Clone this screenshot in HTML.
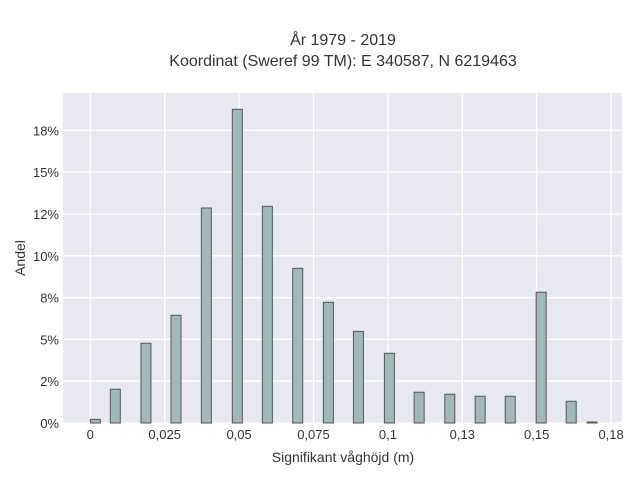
<!DOCTYPE html>
<html><head><meta charset="utf-8"><style>
body{margin:0;background:#fff;font-family:"Liberation Sans",sans-serif}
svg text{font-family:"Liberation Sans",sans-serif;fill:#333}
</style></head><body>
<svg id="chart" width="640" height="480">
<text x="343" y="45" text-anchor="middle" font-size="16">År 1979 - 2019</text>
<text x="343" y="66" text-anchor="middle" font-size="16">Koordinat (Sweref 99 TM): E 340587, N 6219463</text>
<rect x="63" y="93" width="559" height="330" fill="#e8e8f0"/>
<g id="grid"></g><g id="bars"></g><g id="ticks"></g>
<text x="343" y="462" text-anchor="middle" font-size="14">Signifikant våghöjd (m)</text>
<text x="25" y="258" text-anchor="middle" font-size="14" transform="rotate(-90 25 258)">Andel</text>
</svg>
<script>
const binCenters=[0.0017,0.0084,0.0187,0.0288,0.039,0.0494,0.0595,0.0697,0.08,0.0901,0.1005,0.1105,0.1208,0.131,0.1411,0.1515,0.1616,0.1686];
const shares=[0.22,2.02,4.77,6.44,12.86,18.76,12.96,9.25,7.22,5.48,4.17,1.84,1.72,1.6,1.6,7.82,1.3,0.06];
const xTicks=[0,0.025,0.05,0.075,0.1,0.125,0.15,0.175];
const xTickLabels=["0","0,025","0,05","0,075","0,1","0,13","0,15","0,18"];
const yTicks=[0,2.5,5,7.5,10,12.5,15,17.5];
const yTickLabels=["0%","2%","5%","8%","10%","12%","15%","18%"];
const binWidth=0.00336;
const NS="http://www.w3.org/2000/svg";
const xs=v=>90.3+v*2976, ys=p=>423-p*41.8/2.5;
const grid=document.getElementById('grid'),bars=document.getElementById('bars'),ticks=document.getElementById('ticks');
function mk(tag,attrs,parent){const e=document.createElementNS(NS,tag);for(const k in attrs)e.setAttribute(k,attrs[k]);parent.appendChild(e);return e;}
xTicks.forEach((t,i)=>{
 const g=mk('line',{x1:xs(t),x2:xs(t),y1:93,y2:423,stroke:'#fff','stroke-width':1.3},grid);
 
 
 const l=mk('text',{x:xs(t),y:439,'text-anchor':'middle','font-size':13},ticks);
 l.textContent=xTickLabels[i];
 
 
});
yTicks.forEach((t,i)=>{
 const g=mk('line',{x1:63,x2:622,y1:ys(t),y2:ys(t),stroke:'#fff','stroke-width':1.3},grid);
 
 
 const l=mk('text',{x:59,y:ys(t)+5,'text-anchor':'end','font-size':13},ticks);
 l.textContent=yTickLabels[i];
 
 
});
binCenters.forEach((c,i)=>{
 const x0=xs(c-binWidth/2),x1=xs(c+binWidth/2),y=ys(shares[i]);
 const r=mk('rect',{x:x0,y:y,width:x1-x0,height:423-y,fill:'#a0b8b8',stroke:'#555','stroke-width':1},bars);
 
 
});
</script>
</body></html>
